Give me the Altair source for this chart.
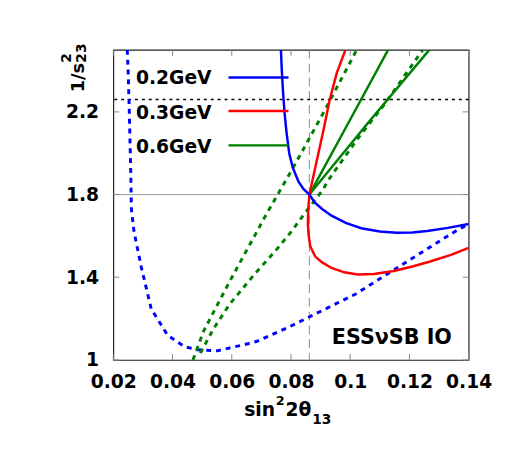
import altair as alt
import pandas as pd

# ---------------- data ----------------
X_TICKS = [0.02, 0.04, 0.06, 0.08, 0.10, 0.12, 0.14]
Y_TICKS = [1.0, 1.4, 1.8, 2.2]

# 0.2GeV (blue solid)
blue_solid_x = [0.0766, 0.0769, 0.0773, 0.0778, 0.0785, 0.0794, 0.0806, 0.0825, 0.0842, 0.0862,
                0.0880, 0.0905, 0.0937, 0.0985, 0.1037, 0.1100, 0.1157, 0.1210, 0.1260, 0.1330, 0.1400]
blue_solid_y = [2.50, 2.40, 2.30, 2.20, 2.10, 2.00, 1.93, 1.864, 1.827, 1.80,
                1.762, 1.730, 1.698, 1.663, 1.637, 1.621, 1.615, 1.617, 1.624, 1.639, 1.658]
# 0.3GeV (red solid)
red_x = [0.0984, 0.0955, 0.0931, 0.0908, 0.0885, 0.0862, 0.0858, 0.0857, 0.0859, 0.0865, 0.0882,
         0.0904, 0.0937, 0.0980, 0.1025, 0.1080, 0.1147, 0.1210, 0.1270, 0.1340, 0.1400]
red_y = [2.50, 2.39, 2.26, 2.10, 1.95, 1.80, 1.72, 1.66, 1.61, 1.55, 1.50,
         1.473, 1.445, 1.424, 1.413, 1.416, 1.430, 1.452, 1.476, 1.508, 1.542]
# 0.6GeV (green solid, two branches)
green1_x = [0.0862, 0.0995, 0.1128]
green1_y = [1.80, 2.15, 2.50]
green2_x = [0.0862, 0.1062, 0.1267]
green2_y = [1.80, 2.15, 2.50]
# dotted curves
green_dot_a_x = [0.0469, 0.0505, 0.0593, 0.0715, 0.0815, 0.0915, 0.1022]
green_dot_a_y = [1.00, 1.14, 1.38, 1.70, 1.95, 2.21, 2.50]
green_dot_b_x = [0.0494, 0.0538, 0.0593, 0.0680, 0.0749, 0.0804, 0.0848, 0.0904, 0.0931,
                 0.1025, 0.1120, 0.1181, 0.1245]
green_dot_b_y = [1.033, 1.15, 1.27, 1.42, 1.53, 1.626, 1.713, 1.816, 1.88,
                 2.07, 2.245, 2.37, 2.50]
blue_dot_x = [0.0247, 0.0250, 0.0254, 0.0259, 0.0261, 0.0270, 0.0294, 0.0328, 0.0383, 0.0439,
              0.0483, 0.0550, 0.0639, 0.0683, 0.0794, 0.0883, 0.1017, 0.1183, 0.1350, 0.1400]
blue_dot_y = [2.50, 2.40, 2.20, 1.90, 1.73, 1.62, 1.452, 1.247, 1.12, 1.065,
              1.049, 1.044, 1.073, 1.089, 1.16, 1.223, 1.318, 1.468, 1.618, 1.658]

# reference lines
REF_X = [0.0862]
REF_Y_SOLID = [1.8]
REF_Y_DOTTED = [2.26]

LEGEND_LABELS = ["0.2GeV", "0.3GeV", "0.6GeV"]
LEGEND_COLORS = ["#0000ff", "#ff0000", "#008000"]
LABEL_TEXT = "ESS\u03bdSB IO"

W, H = 361, 315
FONT = "DejaVu Sans"

xs = alt.Scale(domain=[0.02, 0.14], nice=False, zero=False)
ys = alt.Scale(domain=[1.0, 2.5], nice=False, zero=False)

axis_common = dict(ticks=False, tickSize=0, domain=False, grid=False,
                   labelFont=FONT, labelFontWeight="bold", labelFontSize=19,
                   labelColor="black", format="~g",
                   labelFlush=False, labelOverlap=False, title=None)
X_AX = alt.Axis(values=X_TICKS, labelPadding=13, **axis_common)
Y_AX = alt.Axis(values=Y_TICKS, labelPadding=15, **axis_common)


def X(field="x"):
    return alt.X(f"{field}:Q", scale=xs, axis=X_AX, title=None)


def Y(field="y"):
    return alt.Y(f"{field}:Q", scale=ys, axis=Y_AX, title=None)


def curve(xv, yv):
    return pd.DataFrame({"x": xv, "y": yv, "i": list(range(len(xv)))})


def line(xv, yv, color, dash=None, width=2.5):
    kw = dict(color=color, strokeWidth=width, clip=True, strokeCap="butt")
    if dash:
        kw["strokeDash"] = dash
    return alt.Chart(curve(xv, yv)).mark_line(**kw).encode(x=X(), y=Y(), order="i:Q")


# inward ticks
xt = pd.DataFrame({"x": X_TICKS})
yt = pd.DataFrame({"y": Y_TICKS})
tick_style = dict(color="#888888", strokeWidth=1)
ticks = [
    alt.Chart(xt).mark_rule(**tick_style).encode(x=X(), y=alt.value(H), y2=alt.value(H - 6)),
    alt.Chart(xt).mark_rule(**tick_style).encode(x=X(), y=alt.value(0), y2=alt.value(6)),
    alt.Chart(yt).mark_rule(**tick_style).encode(y=Y(), x=alt.value(0), x2=alt.value(6)),
    alt.Chart(yt).mark_rule(**tick_style).encode(y=Y(), x=alt.value(W), x2=alt.value(W - 6)),
]

vref = alt.Chart(pd.DataFrame({"x": REF_X})).mark_rule(
    color="#888888", strokeWidth=1, strokeDash=[9, 5]).encode(x=X())
href = alt.Chart(pd.DataFrame({"y": REF_Y_SOLID})).mark_rule(
    color="#999999", strokeWidth=1).encode(y=Y())
hdot = alt.Chart(pd.DataFrame({"y": REF_Y_DOTTED})).mark_rule(
    color="black", strokeWidth=1.5, strokeDash=[3, 4]).encode(y=Y())

curves = [
    line(blue_dot_x, blue_dot_y, "#0000ff", dash=[5, 5], width=3),
    line(green_dot_a_x, green_dot_a_y, "#008000", dash=[5, 5], width=3),
    line(green_dot_b_x, green_dot_b_y, "#008000", dash=[5, 5], width=3),
    line(green1_x, green1_y, "#008000"),
    line(green2_x, green2_y, "#008000"),
    line(red_x, red_y, "#ff0000"),
    line(blue_solid_x, blue_solid_y, "#0000ff"),
]

# legend (labels left, line samples right)
leg_y_text = [35, 70, 105]
leg_y_line = [28, 62, 97]
legend = []
for lab, col, ty, ly in zip(LEGEND_LABELS, LEGEND_COLORS, leg_y_text, leg_y_line):
    legend.append(alt.Chart(pd.DataFrame({"t": [lab]})).mark_text(
        font=FONT, fontWeight="bold", fontSize=19, align="left", baseline="alphabetic", color="black"
    ).encode(x=alt.value(23), y=alt.value(ty), text="t:N"))
    legend.append(alt.Chart(pd.DataFrame({"t": [lab]})).mark_rule(color=col, strokeWidth=2.5).encode(
        x=alt.value(117), x2=alt.value(178), y=alt.value(ly)))


def txt(s, x, y, size, angle=0, align="left"):
    kw = dict(font=FONT, fontWeight="bold", fontSize=size, align=align, baseline="alphabetic", color="black")
    if angle:
        kw["angle"] = angle
    return alt.Chart(pd.DataFrame({"t": [s]})).mark_text(**kw).encode(
        x=alt.value(x), y=alt.value(y), text="t:N")


texts = [
    txt(LABEL_TEXT, 222, 299, 21),
    # x title: sin^2 2θ_13
    txt("sin", 133, 372, 19),
    txt("2", 165, 361, 13),
    txt("2\u03b8", 175, 372, 19),
    txt("13", 202, 380, 14),
    # y title: 1/s^2_23 (rotated)
    txt("1/s", -30, 43, 18, angle=270),
    txt("2", -43, 13, 14, angle=270),
    txt("23", -28, 13, 14, angle=270),
]

chart = alt.layer(href, vref, hdot, *ticks, *curves, *legend, *texts).properties(
    width=W, height=H,
    autosize=alt.AutoSizeParams(type="none"),
    padding={"left": 107, "top": 39, "right": 42, "bottom": 91},
).configure_view(stroke="#222222", strokeWidth=1.2)

chart.save("out.html", embed_options={"renderer": "svg", "actions": False})
